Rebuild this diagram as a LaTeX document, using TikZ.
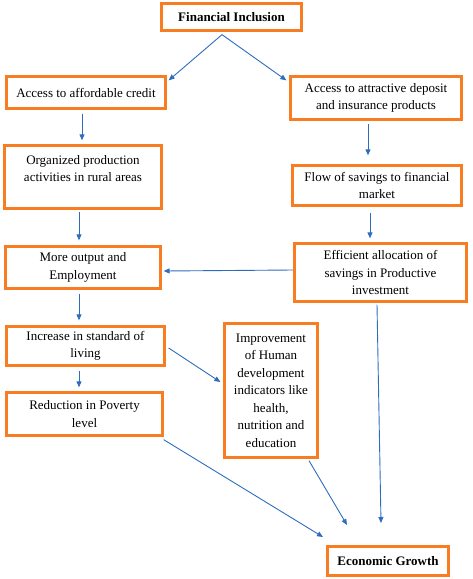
\documentclass[tikz,border=0pt]{standalone}
\usepackage{fontspec}
\setmainfont{Liberation Serif}
\usetikzlibrary{arrows.meta,calc}
\definecolor{boxorange}{RGB}{247,124,34}
\definecolor{arrowblue}{RGB}{46,108,190}
\begin{document}
\begin{tikzpicture}[x=1pt,y=-1pt,
  fbox/.style={draw=boxorange,line width=3.3pt,fill=white,align=center,inner sep=0pt,
    font=\fontsize{13}{17.5}\selectfont},
  conn/.style={draw=arrowblue,line width=0.9pt,-{Triangle[length=6pt,width=5pt]}}]
\useasboundingbox (0,0) rectangle (472,579);
\node[fbox,minimum width=140pt,minimum height=27pt,font=\fontsize{13}{17.5}\selectfont\bfseries] (fi) at (231.5,17) {Financial Inclusion};
\node[fbox,minimum width=159pt,minimum height=32pt] (cred) at (86,92.5) {Access to affordable credit};
\node[fbox,minimum width=171pt,minimum height=43pt] (dep) at (376,98) {Access to attractive deposit\\and insurance products};
\node[fbox,minimum width=157pt,minimum height=63pt] (org) at (83,177) {Organized production\\activities in rural areas\\\mbox{}};
\node[fbox,minimum width=169pt,minimum height=40pt] (flow) at (377,185.5) {Flow of savings to financial\\market};
\node[fbox,minimum width=155pt,minimum height=42pt] (out) at (83,267.5) {More output and\\Employment};
\node[fbox,minimum width=172pt,minimum height=58pt] (eff) at (380.5,272.5) {Efficient allocation of\\savings in Productive\\investment};
\node[fbox,minimum width=158pt,minimum height=39pt] (inc) at (85.5,346) {Increase in standard of\\living};
\node[fbox,minimum width=93pt,minimum height=134pt] (imp) at (271,390.5) {Improvement\\of Human\\development\\indicators like\\health,\\nutrition and\\education};
\node[fbox,minimum width=156pt,minimum height=43pt] (red) at (84.5,414) {Reduction in Poverty\\level};
\node[fbox,minimum width=121pt,minimum height=29pt,font=\fontsize{13}{17.5}\selectfont\bfseries] (eg) at (388,561) {Economic Growth};
\coordinate (egA) at (323,537);
\coordinate (egB) at (347,525);
\coordinate (egC) at (381,523);
\draw[conn] ($(fi.south)+(-9.5,2.5)$) -- ($(cred.north east)+(1.5,5.5)$);
\draw[conn] ($(fi.south)+(-9.5,2.5)$) -- ($(dep.north west)+(-2.5,5.5)$);
\draw[conn] ($(cred.south)+(-4,3.5)$) -- ($(org.north)+(-1,-3.5)$);
\draw[conn] ($(dep.south)+(-8,2.5)$) -- ($(flow.north)+(-9,-8.5)$);
\draw[conn] ($(org.south)+(-4,1.5)$) -- ($(out.north)+(-4,-4.5)$);
\draw[conn] ($(flow.south)+(-7,5.5)$) -- ($(eff.north)+(-10.5,-3.5)$);
\draw[conn] ($(eff.west)+(0,-2.5)$) -- ($(out.east)+(1.5,3.5)$);
\draw[conn] ($(out.south)+(-4,3.5)$) -- ($(inc.north)+(-6.5,-4.5)$);
\draw[conn] ($(inc.south)+(-6.5,3.5)$) -- ($(red.north)+(-5.5,-3.5)$);
\draw[conn] ($(inc.east)+(2.5,2)$) -- ($(imp.west)+(-2.5,-8.5)$);
\draw[conn] ($(eff.south)+(-3.5,1.5)$) -- (egC);
\draw[conn] ($(imp.south)+(38,1.5)$) -- (egB);
\draw[conn] ($(red.south east)+(-0.5,2.5)$) -- (egA);
\end{tikzpicture}
\end{document}
